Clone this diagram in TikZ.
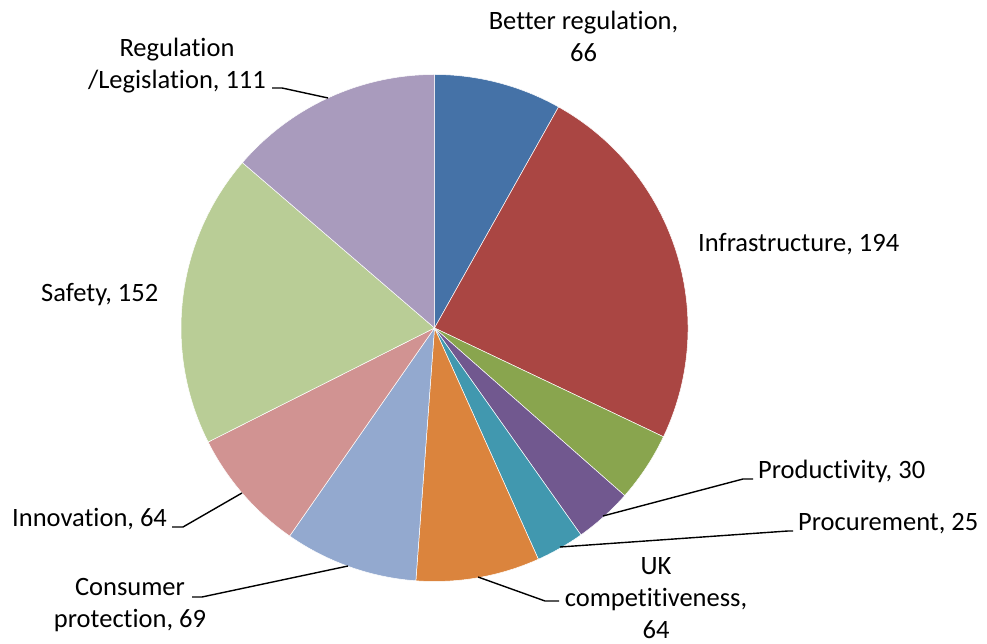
\documentclass[tikz,border=0pt]{standalone}
\usepackage{fontspec}
\setmainfont{Carlito}[Ligatures=NoCommon]
\definecolor{cBetter}{HTML}{4572A7}
\definecolor{cInfra}{HTML}{AA4643}
\definecolor{cGreen}{HTML}{89A54E}
\definecolor{cProd}{HTML}{71588F}
\definecolor{cProc}{HTML}{4198AF}
\definecolor{cUK}{HTML}{DB843D}
\definecolor{cCons}{HTML}{93A9CF}
\definecolor{cInno}{HTML}{D19392}
\definecolor{cSafe}{HTML}{B9CD96}
\definecolor{cReg}{HTML}{A99BBD}
\tikzset{
  slice/.style={draw=white, line width=0.5pt},
  lbl/.style={inner sep=0pt, font=\fontsize{26.5}{32}\selectfont, text=black},
  leader/.style={draw=black, line width=1.4pt}
}
\newcommand{\pieslice}[3]{% color, start, end
  \filldraw[slice, fill=#1] (ctr) -- ++(#2:253.5) arc[start angle=#2, end angle=#3, radius=253.5] -- cycle;
}
\begin{document}
\begin{tikzpicture}[x=1pt,y=1pt]
\useasboundingbox (0,0) rectangle (987,644);
\coordinate (ctr) at (434.5,316);
\pieslice{cBetter}{90}{60.70}
\pieslice{cInfra}{60.70}{-25.41}
\pieslice{cGreen}{-25.41}{-41.39}
\pieslice{cProd}{-41.39}{-54.71}
\pieslice{cProc}{-54.71}{-65.81}
\pieslice{cUK}{-65.81}{-94.22}
\pieslice{cCons}{-94.22}{-124.85}
\pieslice{cInno}{-124.85}{-153.26}
\pieslice{cSafe}{-153.26}{-220.73}
\pieslice{cReg}{-220.73}{-270}

% labels (base anchor = baseline of the last line)
\node[lbl, align=center, anchor=base] (lBetter) at (583.5,582.3) {Better regulation,\\66};
\node[lbl, anchor=base west] (lInfra) at (698,392) {Infrastructure, 194};
\node[lbl, anchor=base west] (lProd) at (758,165) {Productivity, 30};
\node[lbl, anchor=base west] (lProc) at (798,113) {Procurement, 25};
\node[lbl, align=center, anchor=base] (lUK) at (656,5) {UK\\competitiveness,\\64};
\node[lbl, align=center, anchor=base] (lCons) at (130,16) {Consumer\\protection, 69};
\node[lbl, anchor=base west] (lInno) at (12,117) {Innovation, 64};
\node[lbl, anchor=base west] (lSafe) at (41,342.3) {Safety, 152};
\node[lbl, align=center, anchor=base] (lReg) at (177,555.7) {Regulation\\/Legislation, 111};

% leader anchor points on slices
\coordinate (pProd) at (603,128);
\coordinate (pProc) at (560,97);
\coordinate (pUK) at (478,67);
\coordinate (pCons) at (348,78);
\coordinate (pInno) at (242,151);
\coordinate (pReg) at (328,546);

\draw[leader] (pProd) -- (743,165) -- ([xshift=-5pt]lProd.base west);
\draw[leader] (pProc) -- (788,113) -- ([xshift=-5pt]lProc.base west);
\draw[leader] (pUK) -- (545,43) -- (559,43);
\draw[leader] (pCons) -- (202,47) -- (192,47);
\draw[leader] (pInno) -- (183,117) -- (172,117);
\draw[leader] (pReg) -- (282,556) -- (272,556);
\end{tikzpicture}
\end{document}
